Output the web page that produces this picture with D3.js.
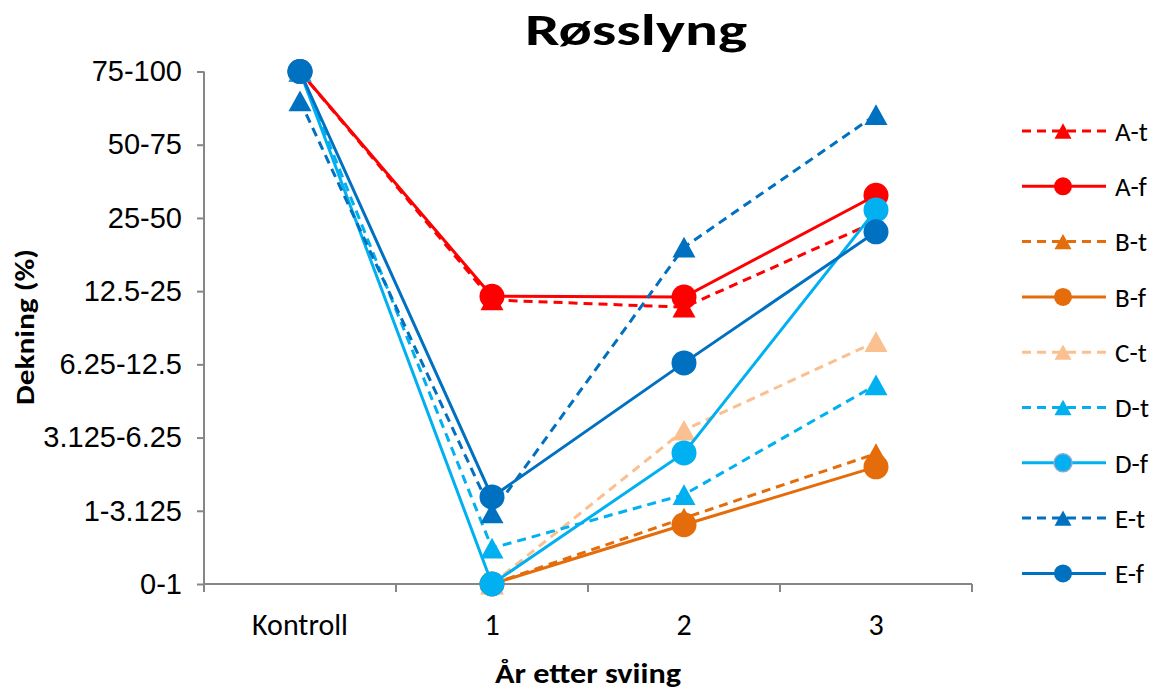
<!DOCTYPE html>
<html>
<head>
<meta charset="utf-8">
<script src="https://cdn.jsdelivr.net/npm/d3@7/dist/d3.min.js"></script>
<style>
  html, body { margin: 0; padding: 0; background: #fff; }
  svg { display: block; }
</style>
</head>
<body>
<svg id="chart" width="1157" height="690"></svg>
<script>
// Coverage classes (ordinal index 0..7) and x categories
const coverLabels = ["0-1", "1-3.125", "3.125-6.25", "6.25-12.5", "12.5-25", "25-50", "50-75", "75-100"];
const years = ["Kontroll", "1", "2", "3"];

// Mean coverage class per treatment (null = not recorded)
const At = [7, 3.88, 3.78, 4.95];
const Af = [7, 3.93, 3.92, 5.31];
const Bt = [null, 0, 0.9, 1.78];
const Bf = [null, 0, 0.81, 1.60];
const Ct = [null, 0, 2.10, 3.31];
const Dt = [7, 0.49, 1.22, 2.72];
const Df = [7, 0, 1.79, 5.11];
const Et = [6.6, 0.97, 4.60, 6.41];
const Ef = [7, 1.19, 3.02, 4.81];

const seriesNames = ["A-t", "A-f", "B-t", "B-f", "C-t", "D-t", "D-f", "E-t", "E-f"];
const seriesValues = [At, Af, Bt, Bf, Ct, Dt, Df, Et, Ef];
const seriesColors = ["#FF0000", "#FF0000", "#E46C0A", "#E46C0A", "#FAC090", "#00B0F0", "#00B0F0", "#0070C0", "#0070C0"];
const seriesDashed = [true, false, true, false, true, true, false, true, false];
const seriesShape = ["tri", "circle", "tri", "circle", "tri", "tri", "circle", "tri", "circle"];

const svg = d3.select("#chart");
const plotLeft = 204, plotRight = 972, plotTop = 71.5, plotBottom = 584;

const x = d3.scaleBand().domain(years).range([plotLeft, plotRight]);
const y = d3.scaleLinear().domain([0, 7]).range([plotBottom, plotTop]);

const axisColor = "#868686";
const calibri = "Carlito, Calibri, Lato, 'Open Sans', sans-serif";
const arial = "'Liberation Sans', Arial, sans-serif";

// Title
svg.append("text")
  .attr("x", 636).attr("y", 45)
  .attr("text-anchor", "middle")
  .attr("font-family", calibri)
  .attr("font-weight", "bold")
  .attr("font-size", 45)
  .attr("textLength", 222)
  .attr("lengthAdjust", "spacingAndGlyphs")
  .text("Røsslyng");

// Y axis
const yAxis = d3.axisLeft(y)
  .tickValues(d3.range(0, 8))
  .tickFormat(i => coverLabels[i])
  .tickSize(7)
  .tickPadding(15);
const gy = svg.append("g").attr("transform", `translate(${plotLeft},0)`).call(yAxis);
gy.select(".domain").attr("stroke", axisColor).attr("stroke-width", 2).attr("d", `M0,${plotTop}V${plotBottom}`);
gy.selectAll(".tick line").attr("stroke", axisColor).attr("stroke-width", 2);
gy.selectAll(".tick text")
  .attr("font-family", arial)
  .attr("font-size", 29)
  .attr("fill", "#000");

// X axis
const xAxis = d3.axisBottom(x).tickSize(0).tickPadding(30);
const gx = svg.append("g").attr("transform", `translate(0,${plotBottom})`).call(xAxis);
gx.select(".domain").attr("stroke", axisColor).attr("stroke-width", 2).attr("d", `M${plotLeft},0H${plotRight}`);
gx.selectAll(".tick text")
  .attr("font-family", calibri)
  .attr("font-size", 30)
  .attr("fill", "#000");
// Category boundary ticks
const bounds = years.map(d => x(d)).concat([x(years[years.length - 1]) + x.bandwidth()]);
gx.selectAll("line.bound").data(bounds).enter().append("line")
  .attr("class", "bound")
  .attr("x1", d => d).attr("x2", d => d)
  .attr("y1", 0).attr("y2", 8)
  .attr("stroke", axisColor).attr("stroke-width", 2);

// Axis titles
svg.append("text")
  .attr("x", 588).attr("y", 683)
  .attr("text-anchor", "middle")
  .attr("font-family", calibri)
  .attr("font-weight", "bold")
  .attr("font-size", 28)
  .attr("textLength", 186)
  .attr("lengthAdjust", "spacingAndGlyphs")
  .text("År etter sviing");

svg.append("text")
  .attr("transform", "translate(34,327) rotate(-90)")
  .attr("text-anchor", "middle")
  .attr("font-family", calibri)
  .attr("font-weight", "bold")
  .attr("font-size", 27)
  .attr("textLength", 156)
  .attr("lengthAdjust", "spacingAndGlyphs")
  .text("Dekning (%)");

// Marker drawing
const triPath = (s) => {
  const w = s, h = s * 0.9;
  return `M0,${-h / 2}L${w / 2},${h / 2}L${-w / 2},${h / 2}Z`;
};
function drawMarker(g, shape, cx, cy, color, size) {
  if (shape === "circle") {
    g.append("circle").attr("cx", cx).attr("cy", cy).attr("r", size / 2).attr("fill", color);
  } else {
    g.append("path").attr("d", triPath(size)).attr("transform", `translate(${cx},${cy})`).attr("fill", color);
  }
}

// Series
const cx = d => x(d) + x.bandwidth() / 2;
const line = d3.line()
  .defined(d => d.v !== null)
  .x(d => cx(d.year))
  .y(d => y(d.v));

seriesNames.forEach((name, i) => {
  const pts = years.map((yr, j) => ({ year: yr, v: seriesValues[i][j] }));
  const g = svg.append("g").attr("class", "series");
  g.append("path")
    .attr("d", line(pts))
    .attr("fill", "none")
    .attr("stroke", seriesColors[i])
    .attr("stroke-width", 3)
    .attr("stroke-dasharray", seriesDashed[i] ? "9,6" : null);
  pts.filter(p => p.v !== null).forEach(p => {
    drawMarker(g, seriesShape[i], cx(p.year), y(p.v), seriesColors[i], seriesShape[i] === "circle" ? 25 : 23);
  });
});

// Legend
const legend = svg.append("g");
seriesNames.forEach((name, i) => {
  const ly = 131 + i * 55.3;
  const g = legend.append("g");
  g.append("line")
    .attr("x1", 1022).attr("x2", 1106).attr("y1", ly).attr("y2", ly)
    .attr("stroke", seriesColors[i]).attr("stroke-width", 3)
    .attr("stroke-dasharray", seriesDashed[i] ? "9,6" : null);
  drawMarker(g, seriesShape[i], 1063, ly, seriesColors[i], seriesShape[i] === "circle" ? 18 : 17);
  if (name === "D-f") {
    g.select("circle").attr("stroke", "#8FA8CF").attr("stroke-width", 1.5);
  }
  g.append("text")
    .attr("x", 1115).attr("y", ly)
    .attr("dy", "0.36em")
    .attr("font-family", calibri)
    .attr("font-size", 27)
    .text(name);
});
</script>
</body>
</html>
